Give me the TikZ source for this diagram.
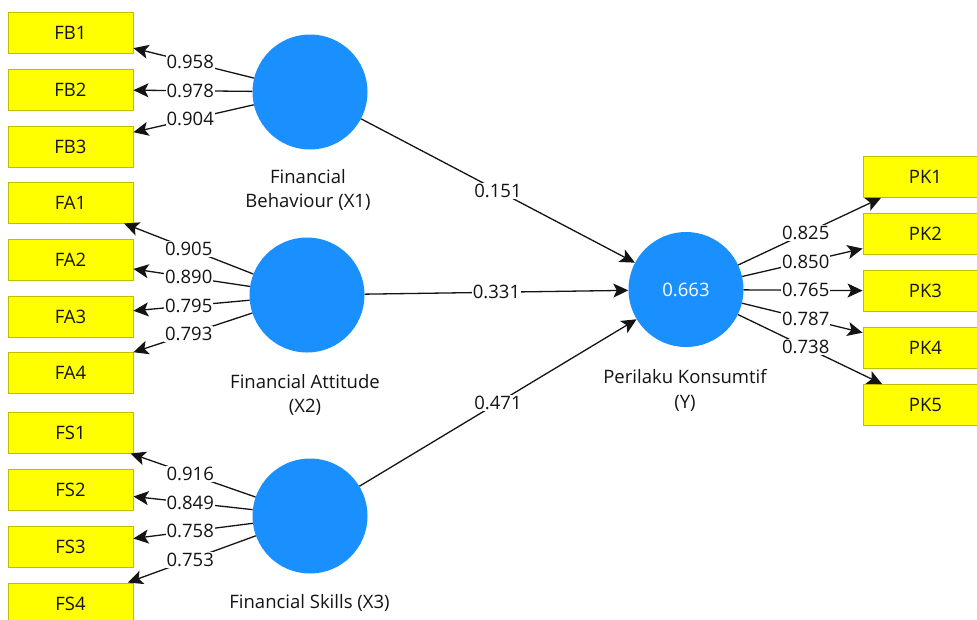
\documentclass[tikz,border=0pt]{standalone}
\usepackage{fontspec}
\setmainfont{Open Sans}
\usetikzlibrary{arrows.meta,calc}
\definecolor{boxfill}{RGB}{255,255,0}
\definecolor{boxline}{RGB}{190,190,0}
\definecolor{lv}{RGB}{26,144,255}
\definecolor{ink}{RGB}{20,20,20}
\begin{document}
\begin{tikzpicture}[x=1pt,y=-1pt,
  font=\fontsize{18.5}{24.5}\selectfont,
  ind/.style={draw=boxline,fill=boxfill,minimum width=125pt,minimum height=41pt,inner sep=0pt,line width=0.9pt,text=ink},
  lat/.style={circle,fill=lv,minimum size=115pt,inner sep=0pt},
  lab/.style={text=ink,align=center},
  coef/.style={fill=white,inner sep=1pt,text=ink},
  arr/.style={draw=ink,line width=1.3pt,-{Stealth[length=15pt,width=14pt,inset=3.5pt]}}
]
\useasboundingbox (0,0) rectangle (977,619);
\fill[white] (0,0) rectangle (977,619);

% latent variables
\node[lat] (X1) at (310,92) {};
\node[lat] (X2) at (307,295) {};
\node[lat] (X3) at (310,516) {};
\node[lat,text=white] (Y) at (686,289.5) {0.663};

% latent labels
\node[lab] (lX1) at (308,190) {Financial\\Behaviour (X1)};
\node[lab] (lX2) at (305,395) {Financial Attitude\\(X2)};
\node[lab] (lX3) at (309.5,603) {Financial Skills (X3)};
\node[lab] (lY) at (685,390.5) {Perilaku Konsumtif\\(Y)};

% indicators left
\foreach \n/\yy in {FB1/32.5,FB2/89.5,FB3/146.5,FA1/202.5,FA2/259.5,FA3/316.5,FA4/373,FS1/432.5,FS2/489.5,FS3/546.5,FS4/603.5}
  \node[ind] (\n) at (70.5,\yy) {\n};
% indicators right
\foreach \n/\yy in {PK1/177,PK2/234,PK3/291,PK4/348,PK5/405}
  \node[ind] (\n) at (925.5,\yy) {\n};

% loadings
\foreach \s/\t/\v in {X1/FB1/0.958,X1/FB2/0.978,X1/FB3/0.904,
                      X2/FA1/0.905,X2/FA2/0.890,X2/FA3/0.795,X2/FA4/0.793,
                      X3/FS1/0.916,X3/FS2/0.849,X3/FS3/0.758,X3/FS4/0.753,
                      Y/PK1/0.825,Y/PK2/0.850,Y/PK3/0.765,Y/PK4/0.787,Y/PK5/0.738}
{
  \draw[arr] (\s) -- (\t);
  \node[coef] at ($(\s)!0.5!(\t)$) {\v};
}

% structural paths
\foreach \s/\v in {X1/0.151,X2/0.331,X3/0.471}
{
  \draw[arr] (\s) -- (Y);
  \node[coef] at ($(\s)!0.5!(Y)$) {\v};
}
\end{tikzpicture}
\end{document}
